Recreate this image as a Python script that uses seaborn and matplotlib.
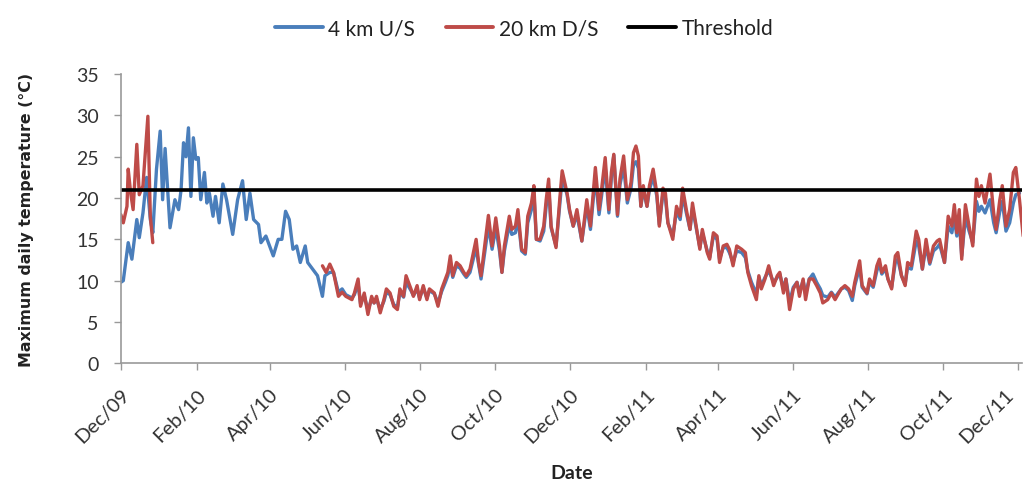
import matplotlib
matplotlib.use("Agg")
import matplotlib.pyplot as plt
import matplotlib.dates as mdates
import matplotlib.transforms as mtransforms
import numpy as np
import pandas as pd
import seaborn as sns
from matplotlib.lines import Line2D

# ---- data (days since 2009-12-01, max daily temperature in deg C) ----
blue_days = [0, 2, 6, 9, 13, 15, 18, 21, 24, 26, 29, 32, 34, 36, 40, 44, 47, 49, 51, 53, 55, 57, 59, 61, 63, 65,
             68, 70, 72, 75, 77, 80, 83, 86, 91, 95, 99, 102, 105, 108, 112, 114, 118, 124, 128, 131, 134, 137,
             140, 143, 146, 150, 152, 156, 160, 164, 166, 170,
             173, 177, 180, 183, 188, 190, 193, 195, 198, 201, 204, 206, 208, 211, 214, 216, 219, 222, 225, 227,
             230, 232, 236, 238, 241, 243, 246, 249, 251, 255, 258, 261, 264, 266, 268, 270, 273, 276, 279, 281,
             284, 289, 291, 293, 296, 299, 302, 305, 308, 310, 312, 316, 318, 321, 323, 326, 329, 331, 334, 336,
             338, 341, 344, 346, 348, 350, 354, 357, 359, 363, 365, 368, 371, 375, 379, 382, 386, 389, 391, 394,
             397, 399, 401, 404, 406, 409, 412, 415, 417, 419, 421, 423, 425, 428, 430, 433, 436, 438, 441, 443,
             445, 449, 452, 455, 457, 460, 463, 465, 468, 471, 473, 477, 479, 482, 485, 487, 490, 493, 495, 498,
             501, 505, 508, 510, 513, 517, 519, 521, 524, 527, 531, 534, 536, 539, 541, 544, 547, 550, 552, 555,
             557, 560, 563, 566, 569, 571, 575, 578, 581, 584, 586, 589, 592, 595, 597, 601, 603, 607, 609, 612,
             615, 617, 619, 622, 624, 627, 630, 632, 635, 638, 640, 643, 647, 649, 652, 655, 658, 661, 664, 666,
             670, 673, 676, 678, 680, 682, 684, 687, 690, 693, 696, 698, 700, 703, 707, 710, 712, 715, 717, 720,
             723, 726, 728, 731]
blue_vals = [9.8, 10, 14.6, 12.6, 17.4, 15.2, 18.2, 22.5, 17.4, 15.8, 23.5, 28.1, 19.8, 26, 16.4, 19.8, 18.6, 21,
             26.7, 25, 28.5, 20.2, 27.3, 24.7, 24.9, 19.8, 23.1, 19.4, 20.6, 17.8, 20.2, 17, 21.7, 19.8, 15.6, 19.8,
             22.1, 17.4, 20.6, 17.4, 16.8, 14.6, 15.4, 13, 15, 15, 18.4, 17.4, 13.8, 14.2, 12.2, 14.2, 12.2, 11.4,
             10.6, 8.1, 10.6, 11,
             11, 8.6, 9, 8.3, 7.9, 8.3, 9.6, 7.2, 8.2, 6.4, 7.8, 7.3, 7.8, 6.5, 7.5, 8.6, 8.3, 7.1, 6.8, 8.6,
             8, 9.8, 8.8, 8.2, 9, 7.9, 9.1, 7.9, 8.8, 8.4, 7.3, 8.7, 9.8, 10.6, 12.2, 10.4, 11.8, 11.5, 10.8, 10.4,
             11, 14, 12, 10.2, 13.4, 16.6, 13.8, 16.4, 13.6, 11, 13.6, 16.8, 15.6, 15.8, 17.6, 13.6, 13.2, 17, 18.6, 20.6,
             15, 14.8, 16, 19, 21.4, 16.4, 14.2, 19.2, 22.4, 20.4, 18.4, 16.6, 18, 14.8, 19, 16.2, 22.6, 18, 20.2, 23.8,
             18.2, 22.4, 25.2, 17.8, 21.6, 23.8, 19.4, 21.2, 24, 24.4, 23.6, 19, 21, 19, 21, 22.6, 20.2, 16.8, 20.6, 20,
             17, 15.4, 18.4, 17.4, 20.4, 18.2, 16.2, 18.8, 16.4, 14, 15.8, 13.6, 12.8, 15.4, 15, 12.6, 14, 14, 13.4, 12.2,
             13.6, 13.4, 12.8, 11.2, 9.8, 8.4, 10.4, 9.4, 10.4, 11.2, 9.8, 10.4, 10.8, 9, 10.2, 7.4, 9.2, 9.8, 8.6, 10,
             8.4, 10.2, 10.8, 9.8, 9, 8.2, 8, 8.6, 8, 8.6, 9, 9.2, 8.8, 7.6, 9.4, 11.6, 9.2, 8.4, 9.8, 9.2,
             11.2, 12, 10.8, 11.4, 10.2, 9.2, 12.2, 12.6, 10.6, 9.6, 11.6, 11.4, 14.8, 14.2, 11.4, 14.2, 12, 13.6, 14, 14.4,
             12.2, 16.6, 15.8, 17.6, 15.4, 17.2, 13, 17.6, 16, 14.6, 19.6, 18.4, 19, 18.2, 19.8, 17, 15.8, 18.4, 19.6, 16,
             17, 19.4, 20.4, 20.6]

red1_days = [0, 2, 5, 6, 8, 10, 13, 15, 18, 22, 24, 26]
red1_vals = [18, 17, 19, 23.5, 20.6, 18.6, 26.5, 20.4, 21.5, 29.9, 17.8, 14.6]

red2_days = [164, 167, 170, 173, 177, 180, 183, 188, 190, 193, 195, 198, 201, 204, 206, 208, 211, 214, 216, 219,
             222, 225, 227, 230, 232, 236, 238, 241, 243, 246, 249, 251, 255, 258, 261, 264, 266, 268, 270, 273,
             276, 279, 281, 284, 289, 291, 293, 296, 299, 302, 305, 308, 310, 312, 316, 318, 321, 323, 326, 329,
             331, 334, 336, 338, 341, 344, 346, 348, 350, 354, 357, 359, 363, 365, 368, 371, 375, 379, 382, 386,
             389, 391, 394, 397, 399, 401, 404, 406, 409, 412, 415, 417, 419, 421, 423, 425, 428, 430, 433, 436,
             438, 441, 443, 445, 449, 452, 455, 457, 460, 463, 465, 468, 471, 473, 477, 479, 482, 485, 487, 490,
             493, 495, 498, 501, 505, 508, 510, 513, 517, 519, 521, 524, 527, 531, 534, 536, 539, 541, 544, 547,
             550, 552, 555, 557, 560, 563, 566, 569, 571, 575, 578, 581, 584, 586, 589, 592, 595, 597, 601, 603,
             607, 609, 612, 615, 617, 619, 622, 624, 627, 630, 632, 635, 638, 640, 643, 647, 649, 652, 655, 658,
             661, 664, 666, 670, 673, 676, 678, 680, 682, 684, 687, 690, 693, 696, 698, 700, 703, 707, 710, 712,
             715, 717, 720, 723, 726, 728, 731, 734]
red2_vals = [11.8, 11, 12, 11, 8.1, 8.6, 8.1, 7.7, 8.5, 10.2, 6.9, 8.5, 5.9, 8.1, 7.3, 8.1, 6.1, 7.7, 9, 8.5,
             6.9, 6.5, 9, 8.1, 10.6, 9, 8.1, 9.4, 7.7, 9.4, 7.7, 9, 8.5, 6.9, 9, 10.2, 11, 13, 10.6, 12.2,
             11.8, 11, 10.6, 11.4, 15, 12.2, 10.6, 14.2, 17.9, 14.2, 17.6, 14.2, 11, 14.2, 17.8, 16.2, 16.6, 18.6, 13.8, 13.4,
             17.8, 19.4, 21.5, 15, 15, 16.6, 19.8, 22.3, 16.6, 14, 19.8, 23.3, 20.6, 18.6, 16.6, 18.6, 14.8, 19.8, 16.6, 23.7,
             18.6, 21, 24.9, 18.6, 23.1, 25.3, 18, 22.3, 25.1, 19.8, 21.9, 25.5, 26.3, 25.1, 19, 21.5, 19, 21.5, 23.5, 20.6,
             16.6, 21.2, 20.6, 17, 15, 19, 17.8, 21.2, 18.6, 16.2, 19.4, 16.6, 13.8, 16.2, 13.4, 12.6, 15.8, 15.4, 12.2, 14.2,
             14.4, 13.8, 11.8, 14.2, 13.8, 13.4, 11, 9.4, 7.7, 10.6, 9, 10.2, 11.8, 9.4, 10.6, 11, 8.5, 10.2, 6.5, 9,
             9.8, 8.1, 10.2, 7.7, 10.2, 10.2, 9.4, 8.5, 7.3, 7.7, 8.5, 7.7, 8.5, 9, 9.4, 9, 8.1, 9.8, 12.4, 9.4,
             8.5, 10.2, 9.4, 11.8, 12.6, 11, 11.8, 10.2, 9, 13, 13.4, 10.6, 9.4, 12.2, 11.8, 16, 15, 11.4, 15, 12.2,
             14.2, 14.8, 15, 12.2, 17.8, 16.6, 19.2, 15.8, 18.6, 12.6, 19.2, 16.6, 14.2, 22.3, 20.2, 21.5, 19.4, 22.9, 18.2, 16.2,
             19.8, 21.5, 16.6, 18.6, 23.1, 23.7, 19.8, 15.4]

threshold = 21
series_names = ["4 km U/S", "20 km D/S", "Threshold"]
start_date = "2009-12-01"
end_day = 733

# ---- build long table ----
base = pd.Timestamp(start_date)
def frame(days, vals, name, seg):
    return pd.DataFrame({"date": base + pd.to_timedelta(days, unit="D"),
                         "temp": vals, "series": name, "seg": seg})

df = pd.concat([frame(blue_days, blue_vals, series_names[0], 0),
                frame(red1_days, red1_vals, series_names[1], 1),
                frame(red2_days, red2_vals, series_names[1], 2)], ignore_index=True)

sns.set_theme(style="white")
plt.rcParams["font.family"] = ["Lato", "DejaVu Sans"]

fig, ax = plt.subplots(figsize=(10.24, 4.85), dpi=100)
fig.subplots_adjust(left=0.118, right=0.998, top=0.845, bottom=0.249)

colors = {series_names[0]: "#4a7ebb", series_names[1]: "#be4b48"}
sns.lineplot(data=df, x="date", y="temp", hue="series", units="seg", estimator=None,
             palette=colors, linewidth=2.4, ax=ax, legend=False)
ax.axhline(threshold, color="black", linewidth=2.6)

# legend
handles = [Line2D([], [], color="#4a7ebb", lw=2.8),
           Line2D([], [], color="#be4b48", lw=2.8),
           Line2D([], [], color="black", lw=2.8)]
fig.legend(handles, series_names, loc="center", bbox_to_anchor=(0.512, 0.94), ncol=3,
           frameon=False, fontsize=15, handlelength=2.3, handletextpad=0.25, columnspacing=1.45,
           labelcolor="#222222")

ax.set_xlim(base, base + pd.Timedelta(days=end_day))
ax.set_ylim(0, 35)
ax.set_yticks(np.arange(0, 36, 5))
ax.xaxis.set_major_locator(mdates.MonthLocator(bymonth=[2, 4, 6, 8, 10, 12]))
ax.xaxis.set_major_formatter(mdates.DateFormatter("%b/%y"))

ax.tick_params(axis="both", which="major", colors="#333333", length=5, width=1,
               direction="out", bottom=True, left=True)
ax.tick_params(axis="x", color="#999999", pad=11, labelsize=14.5)
ax.tick_params(axis="y", color="#999999", pad=11, labelsize=14)
fig.canvas.draw()
xlabels = ax.get_xticklabels()
for lab in xlabels:
    lab.set_rotation(45)
    lab.set_ha("right")
    lab.set_rotation_mode("anchor")
# keep the last label (at the right edge) fully inside the figure
last_shift = mtransforms.ScaledTranslation(-14 / 100, 0, fig.dpi_scale_trans)
xlabels[-1].set_transform(xlabels[-1].get_transform() + last_shift)

for s in ["top", "right"]:
    ax.spines[s].set_visible(False)
for s in ["left", "bottom"]:
    ax.spines[s].set_color("#999999")
    ax.spines[s].set_linewidth(1.2)

ax.set_xlabel("Date", fontsize=14, fontweight="bold", color="#222222", labelpad=13)
ax.set_ylabel("Maximum daily temperature (°C)", fontsize=11.4, fontweight="bold",
              family="DejaVu Sans", color="#222222", labelpad=30)

fig.savefig("out.png", dpi=100)
